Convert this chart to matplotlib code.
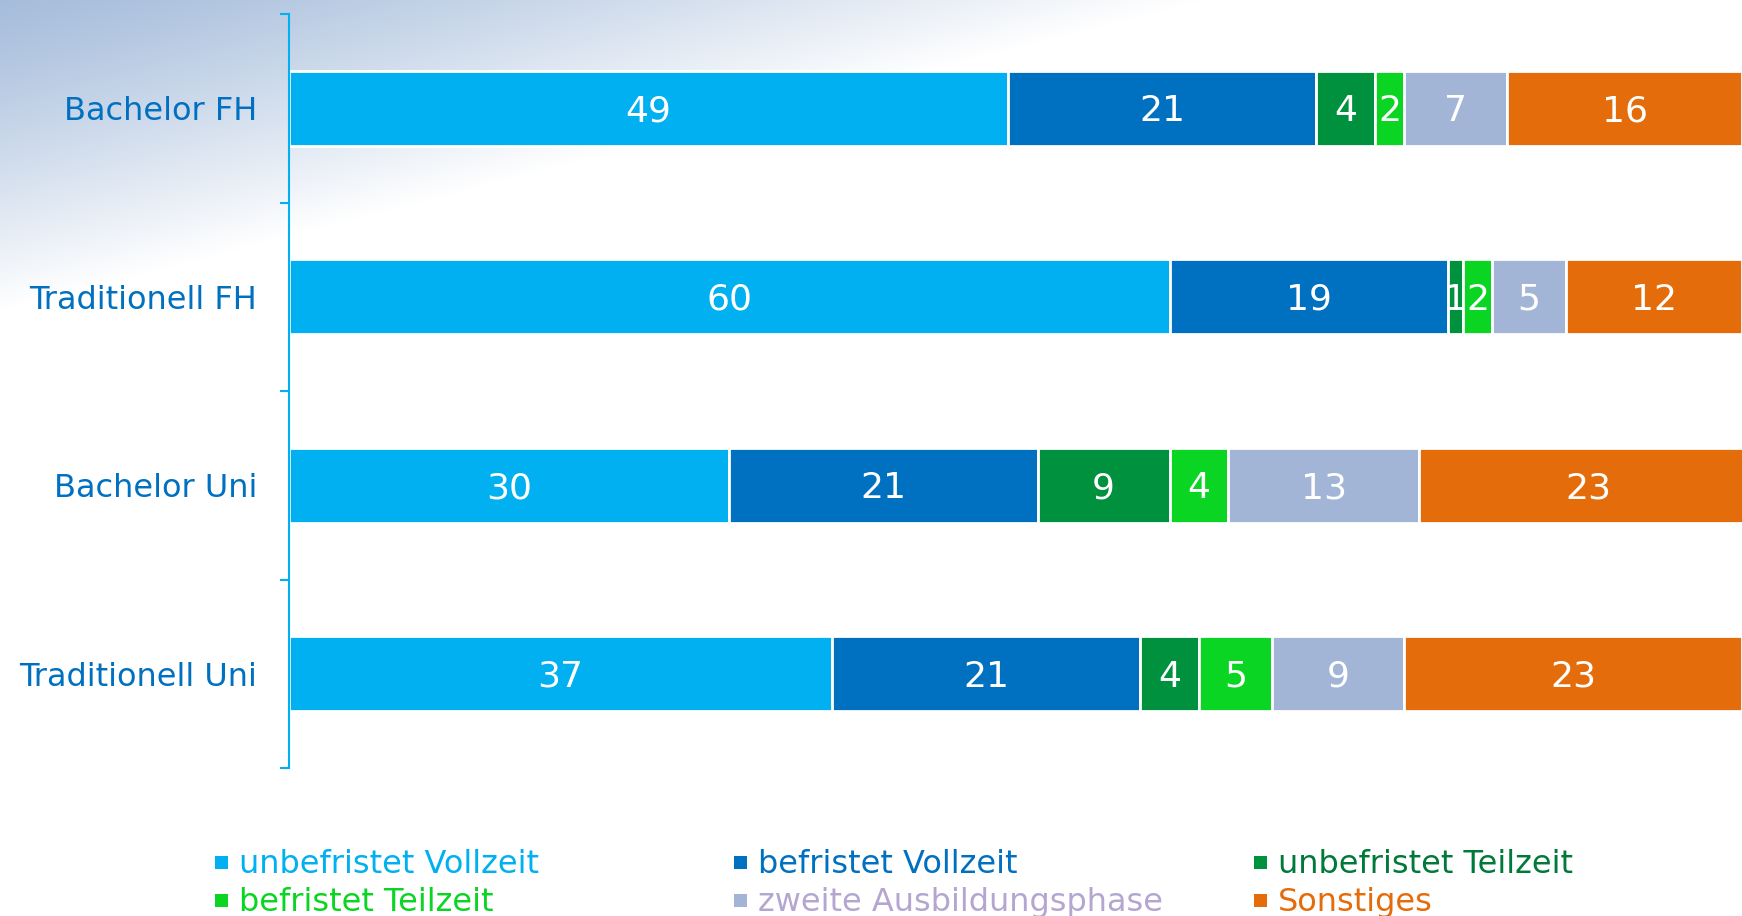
import numpy as np
import matplotlib
matplotlib.use('Agg')
import matplotlib.pyplot as plt
from matplotlib.patches import Rectangle

# Daten
categories = ['Bachelor FH', 'Traditionell FH', 'Bachelor Uni', 'Traditionell Uni']
series_names = ['unbefristet Vollzeit', 'befristet Vollzeit', 'unbefristet Teilzeit',
                'befristet Teilzeit', 'zweite Ausbildungsphase', 'Sonstiges']
values = {
    'unbefristet Vollzeit': [49, 60, 30, 37],
    'befristet Vollzeit': [21, 19, 21, 21],
    'unbefristet Teilzeit': [4, 1, 9, 4],
    'befristet Teilzeit': [2, 2, 4, 5],
    'zweite Ausbildungsphase': [7, 5, 13, 9],
    'Sonstiges': [16, 12, 23, 23],
}
bar_colors = ['#00B0F0', '#0070C0', '#00913F', '#0AD523', '#A3B5D6', '#E46C0A']
legend_text_colors = ['#00B0F0', '#0070C0', '#00793A', '#0AD523', '#B4A6D0', '#E46C0A']

W, H = 1742, 916
fig = plt.figure(figsize=(W / 100, H / 100), dpi=100)
plt.rcParams['font.family'] = ['DejaVu Sans']

# Hintergrund-Verlauf oben links
bg = fig.add_axes([0, 0, 1, 1], zorder=-1)
yy, xx = np.mgrid[0:H, 0:W]
t = np.clip(xx / 1200 + yy / 310, 0, 1)
t = t ** 1.15
corner = np.array([0.65, 0.74, 0.86])
img = corner[None, None, :] * (1 - t[..., None]) + 1.0 * t[..., None]
bg.imshow(img, aspect='auto', extent=[0, W, H, 0])
bg.axis('off')

ax = fig.add_axes([289 / W, 148 / H, 1 - 289 / W, (768 - 14) / H])
ax.patch.set_alpha(0)

y = np.arange(len(categories))
left = np.zeros(len(categories))
for name, col in zip(series_names, bar_colors):
    vals = np.array(values[name])
    bars = ax.barh(y, vals, left=left, height=0.4, color=col,
                   edgecolor='white', linewidth=2.0)
    for b, v in zip(bars, vals):
        ax.text(b.get_x() + b.get_width() / 2, b.get_y() + b.get_height() / 2 + 0.015,
                str(v), ha='center', va='center', color='white', fontsize=26)
    left += vals

ax.set_xlim(0, 99)
ax.set_ylim(3.5, -0.5)
ax.set_yticks(y)
ax.set_yticklabels(categories)
ax.set_yticks(np.arange(-0.5, 4, 1), minor=True)
ax.tick_params(axis='y', which='major', length=0, pad=23, labelsize=23,
               labelcolor='#0070C0')
ax.tick_params(axis='y', which='minor', length=6.5, width=1.5, color='#00B0F0')
ax.set_xticks([])
for s in ['top', 'right', 'bottom']:
    ax.spines[s].set_visible(False)
ax.spines['left'].set_color('#00B0F0')
ax.spines['left'].set_linewidth(1.5)

# Legende
col_x = [215, 734, 1254]
row_base = [873, 911]
for i, (name, col, tcol) in enumerate(zip(series_names, bar_colors, legend_text_colors)):
    r, c = divmod(i, 3)
    x0 = col_x[c]
    yb = row_base[r]
    fig.add_artist(Rectangle((x0 / W, 1 - (yb - 4) / H), 13 / W, 13 / H,
                             transform=fig.transFigure, color=col, lw=0))
    fig.text((x0 + 24) / W, 1 - yb / H, name, color=tcol, fontsize=23,
             ha='left', va='baseline')

fig.savefig('out.png', dpi=100)
